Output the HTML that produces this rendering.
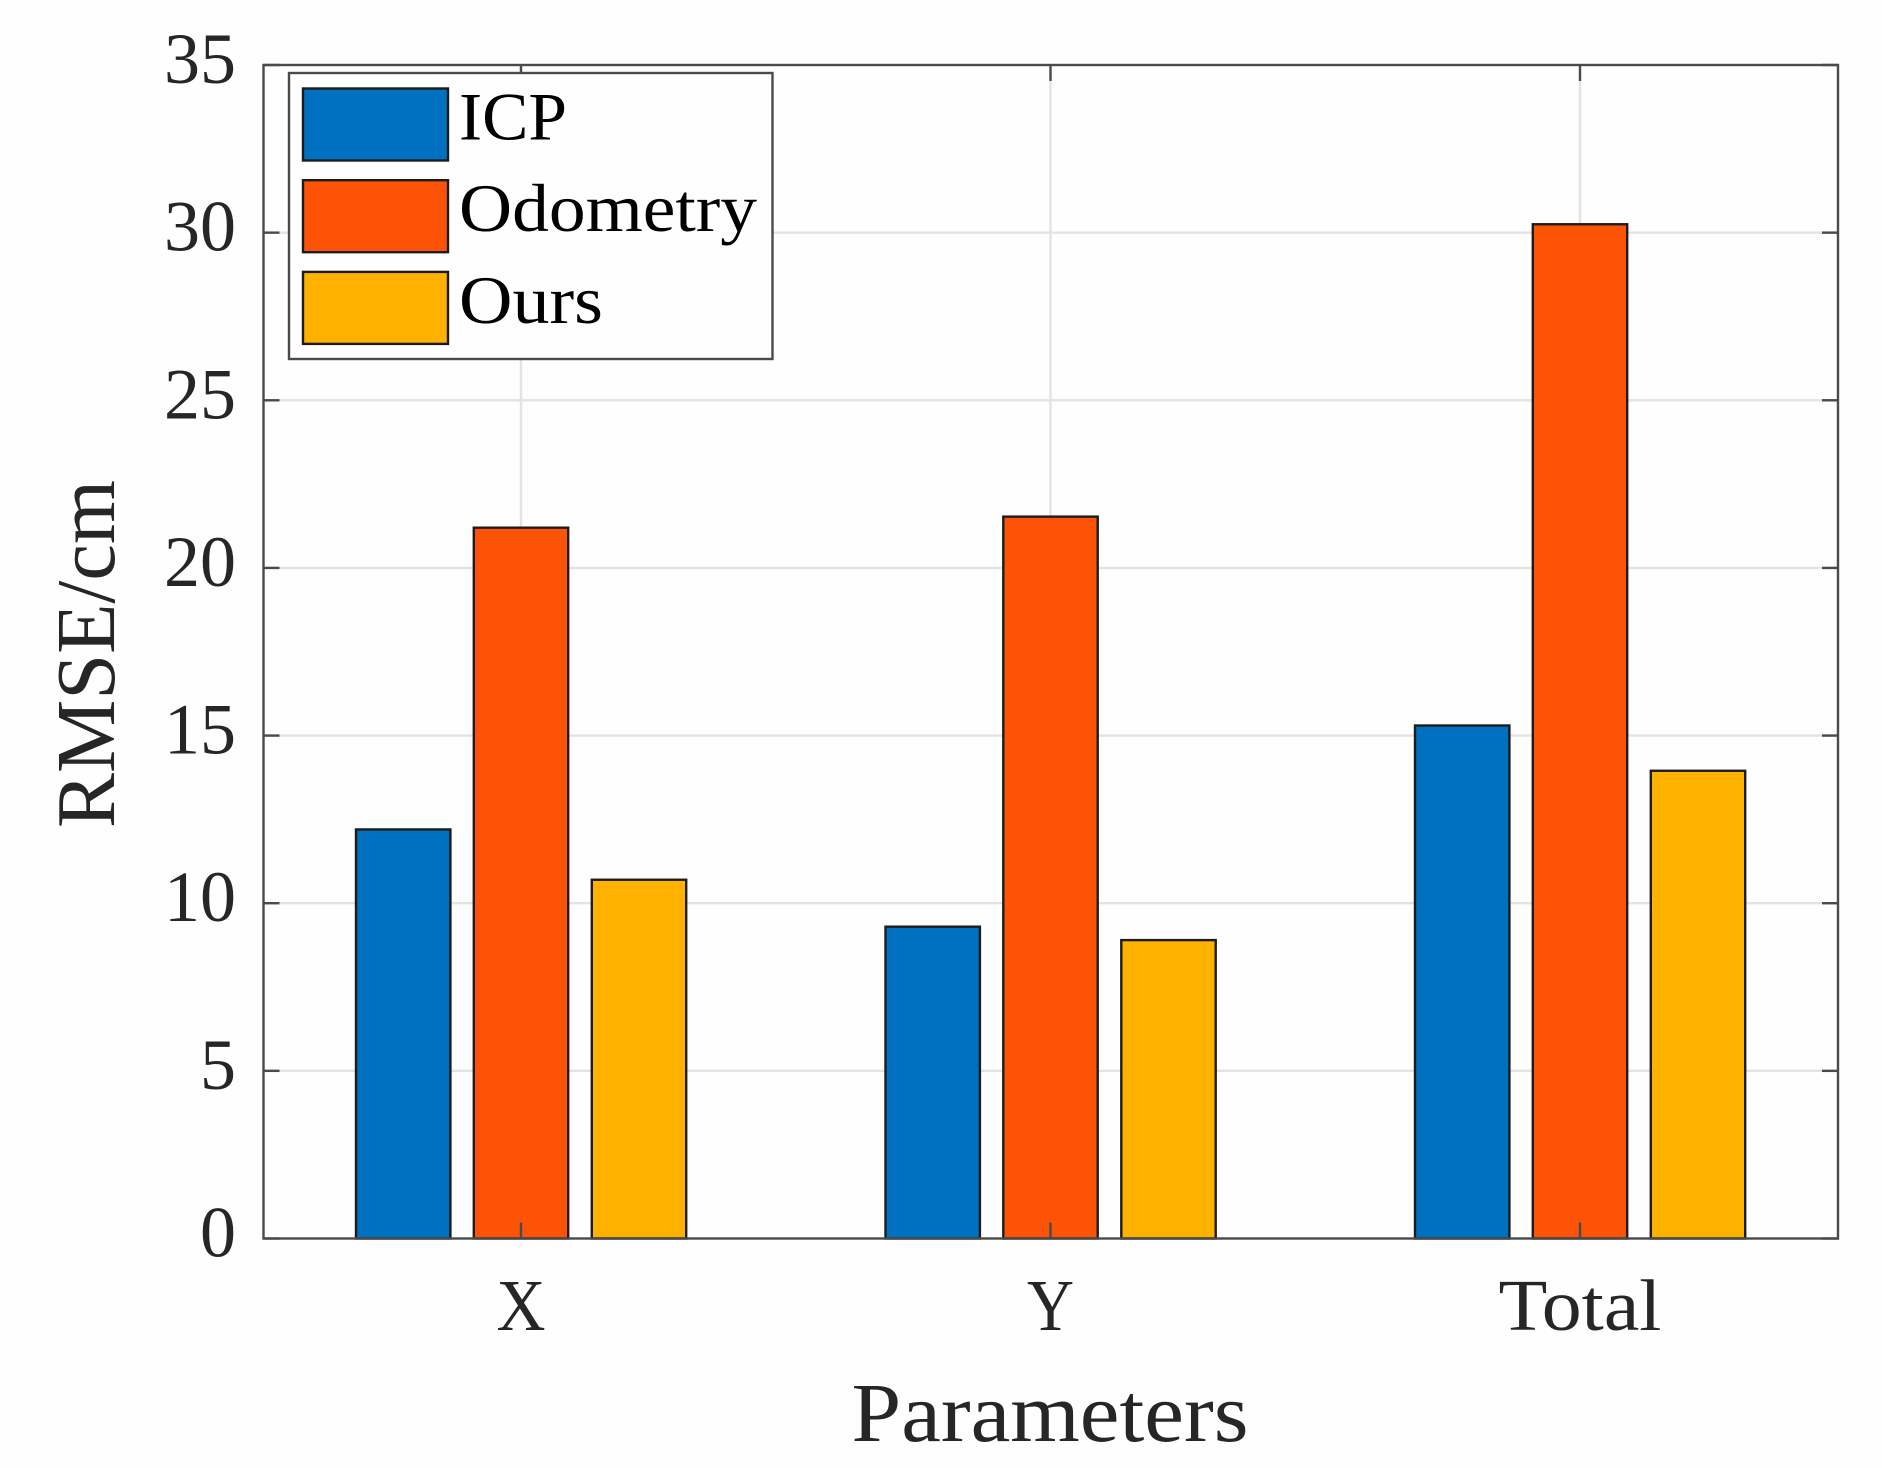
<!DOCTYPE html>
<html lang="en">
<head>
<meta charset="utf-8">
<title>RMSE by parameter</title>
<style>
html,body{margin:0;padding:0;background:#fff;}
svg{display:block;}
text{font-family:"Liberation Serif","DejaVu Serif",serif;}
</style>
</head>
<body>
<svg id="chart" xmlns="http://www.w3.org/2000/svg" width="1882" height="1468" viewBox="0 0 1882 1468">
<rect x="0" y="0" width="1882" height="1468" fill="#fefefe"/>
<g id="grid"></g>
<g id="bars"></g>
<g id="ticks"></g>
<rect x="263.5" y="65" width="1574.5" height="1173.5" fill="none" stroke="#4a4a4a" stroke-width="2.4"/>
<g id="y-labels"></g>
<g id="x-labels"></g>
<text transform="translate(114,654) rotate(-90)" text-anchor="middle" font-size="84" fill="#262626" textLength="348" lengthAdjust="spacingAndGlyphs">RMSE/cm</text>
<text x="1050" y="1441" text-anchor="middle" font-size="84" fill="#262626" textLength="397" lengthAdjust="spacingAndGlyphs">Parameters</text>
<g id="legend"></g>
</svg>
<script>
const categories = ['X', 'Y', 'Total'];
const seriesNames = ['ICP', 'Odometry', 'Ours'];
const icpValues = [12.2, 9.3, 15.3];
const odometryValues = [21.2, 21.53, 30.25];
const oursValues = [10.7, 8.9, 13.95];
const yTickLabels = [0, 5, 10, 15, 20, 25, 30, 35];

const seriesValues = [icpValues, odometryValues, oursValues];
const seriesColors = ['#0071c1', '#fd5307', '#ffb100'];
const NS = 'http://www.w3.org/2000/svg';
const plot = {left: 263.5, right: 1838, top: 65, bottom: 1238.5};

function yScale(v) {
  return plot.bottom - (v / 35) * (plot.bottom - plot.top);
}
function xScale(i) {
  return 521 + i * 529.5;
}
function make(tag, attrs, parent) {
  const el = document.createElementNS(NS, tag);
  Object.keys(attrs).forEach(function (k) { el.setAttribute(k, attrs[k]); });
  parent.appendChild(el);
  return el;
}

const gridG = document.getElementById('grid');
const barsG = document.getElementById('bars');
const ticksG = document.getElementById('ticks');
const yLabelsG = document.getElementById('y-labels');
const xLabelsG = document.getElementById('x-labels');
const legendG = document.getElementById('legend');

yTickLabels.forEach(function (t) {
  const y = yScale(t);
  if (t > 0 && t < 35) {
    const g = make('line', {x1: plot.left, x2: plot.right, y1: y, y2: y, stroke: '#e3e3e3', 'stroke-width': 2.4}, gridG);
    
    
  }
  const a = make('line', {x1: plot.left, x2: plot.left + 16, y1: y, y2: y, stroke: '#4a4a4a', 'stroke-width': 2.4}, ticksG);
  
  
  const b = make('line', {x1: plot.right - 16, x2: plot.right, y1: y, y2: y, stroke: '#4a4a4a', 'stroke-width': 2.4}, ticksG);
  
  
  const label = make('text', {x: 236, y: y + 18, 'text-anchor': 'end', 'font-size': 72, fill: '#262626'}, yLabelsG);
  label.textContent = String(t);
  
  
});

categories.forEach(function (c, i) {
  const x = xScale(i);
  const g = make('line', {x1: x, x2: x, y1: plot.top, y2: plot.bottom, stroke: '#e3e3e3', 'stroke-width': 2.4}, gridG);
  
  
  const a = make('line', {x1: x, x2: x, y1: plot.bottom - 16, y2: plot.bottom, stroke: '#4a4a4a', 'stroke-width': 2.4}, ticksG);
  
  
  const b = make('line', {x1: x, x2: x, y1: plot.top, y2: plot.top + 16, stroke: '#4a4a4a', 'stroke-width': 2.4}, ticksG);
  
  
  const widths = {X: 49, Y: 47, Total: 163};
  const label = make('text', {x: x, y: 1330, 'text-anchor': 'middle', 'font-size': 73, fill: '#262626', textLength: widths[c], lengthAdjust: 'spacingAndGlyphs'}, xLabelsG);
  label.textContent = c;
  
  

  seriesValues.forEach(function (vals, s) {
    const cx = x + (s - 1) * 118 + (s === 0 ? 0.2 : 0);
    const top = yScale(vals[i]);
    const r = make('rect', {x: cx - 47.2, y: top, width: 94.4, height: plot.bottom - top, fill: seriesColors[s], stroke: '#1c1c1c', 'stroke-width': 2.4}, barsG);
    
    
  });
});

const box = make('rect', {x: 289, y: 73, width: 483.5, height: 286, fill: '#fefefe', stroke: '#4a4a4a', 'stroke-width': 2.4}, legendG);


seriesNames.forEach(function (n, s) {
  const top = 88.5 + s * 91.7;
  const sw = make('rect', {x: 303, y: top, width: 145, height: 72, fill: seriesColors[s], stroke: '#1c1c1c', 'stroke-width': 2.4}, legendG);
  
  
  const lengths = [108, 298, 144];
  const t = make('text', {x: 459, y: top + 51, 'font-size': 68, fill: '#000', textLength: lengths[s], lengthAdjust: 'spacingAndGlyphs'}, legendG);
  t.textContent = n;
  
  
});
</script>
</body>
</html>
